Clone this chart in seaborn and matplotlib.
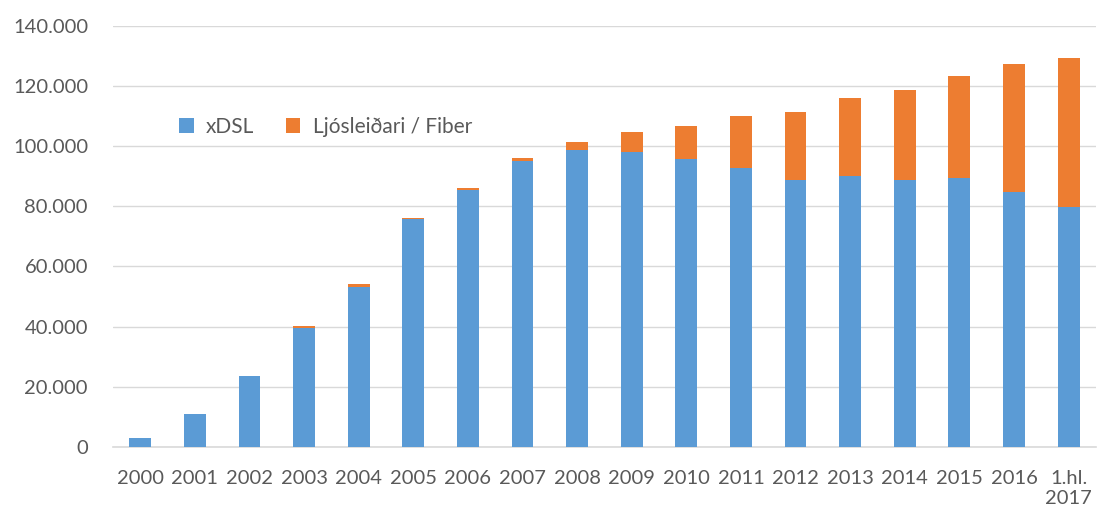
import pandas as pd
import matplotlib
matplotlib.use("Agg")
import matplotlib.pyplot as plt
import matplotlib.ticker as mticker
import seaborn as sns

# ----------------------------------------------------------
# DATA
# ----------------------------------------------------------
years = ["2000", "2001", "2002", "2003", "2004", "2005", "2006", "2007", "2008",
         "2009", "2010", "2011", "2012", "2013", "2014", "2015", "2016", "1.hl.\n2017"]

xdsl = [2800, 10800, 23500, 39500, 53300, 75600, 85500, 94900, 98800,
        98200, 95600, 92800, 88800, 90100, 88800, 89500, 84900, 79600]

fiber = [0, 0, 0, 800, 800, 600, 500, 1200, 2700,
         6600, 11200, 17300, 22700, 25900, 29900, 33800, 42400, 49700]

df = pd.DataFrame({"year": years, "xDSL": xdsl, "Fiber": fiber})
df["total"] = df["xDSL"] + df["Fiber"]

blue = "#5B9BD5"
orange = "#ED7D31"
text_col = "#595959"
grid_col = "#D9D9D9"

# ----------------------------------------------------------
# STYLE
# ----------------------------------------------------------
sns.set_theme(style="white")
plt.rcParams["font.family"] = ["Lato", "DejaVu Sans"]

fig = plt.figure(figsize=(10.97, 5.16), dpi=100)
ax = fig.add_axes([0.103, 0.134, 0.896, 0.816])

# stacked bars: total (orange) behind, xDSL (blue) in front
sns.barplot(data=df, x="year", y="total", color=orange, width=0.4,
            saturation=1, ax=ax, label="Ljósleiðari / Fiber", zorder=3,
            linewidth=0, edgecolor="none")
sns.barplot(data=df, x="year", y="xDSL", color=blue, width=0.4,
            saturation=1, ax=ax, label="xDSL", zorder=4,
            linewidth=0, edgecolor="none")

# ----------------------------------------------------------
# AXES
# ----------------------------------------------------------
ax.set_ylim(0, 140000)
ax.set_xlim(-0.5, len(years) - 0.5)
ax.yaxis.set_major_locator(mticker.MultipleLocator(20000))
ax.yaxis.set_major_formatter(
    mticker.FuncFormatter(lambda v, p: f"{v:,.0f}".replace(",", "."))
)
ax.grid(axis="y", color=grid_col, linewidth=1.0, zorder=0)
ax.set_axisbelow(True)

for side in ["top", "right", "left"]:
    ax.spines[side].set_visible(False)
ax.spines["bottom"].set_color(grid_col)
ax.spines["bottom"].set_linewidth(1.2)

ax.tick_params(axis="y", length=0, pad=18, labelsize=14.5, labelcolor=text_col)
ax.tick_params(axis="x", length=0, pad=17, labelsize=14.5, labelcolor=text_col)
ax.set_xlabel("")
ax.set_ylabel("")

# ----------------------------------------------------------
# LEGEND
# ----------------------------------------------------------
handles, labels = ax.get_legend_handles_labels()
order = [labels.index("xDSL"), labels.index("Ljósleiðari / Fiber")]
leg = ax.legend([handles[i] for i in order], [labels[i] for i in order],
                loc="center left", bbox_to_anchor=(0.048, 0.76), ncol=2,
                frameon=False, fontsize=15, handlelength=0.7, handleheight=0.7,
                handletextpad=0.6, columnspacing=1.5)
for t in leg.get_texts():
    t.set_color(text_col)

plt.savefig("out.png", dpi=100)
